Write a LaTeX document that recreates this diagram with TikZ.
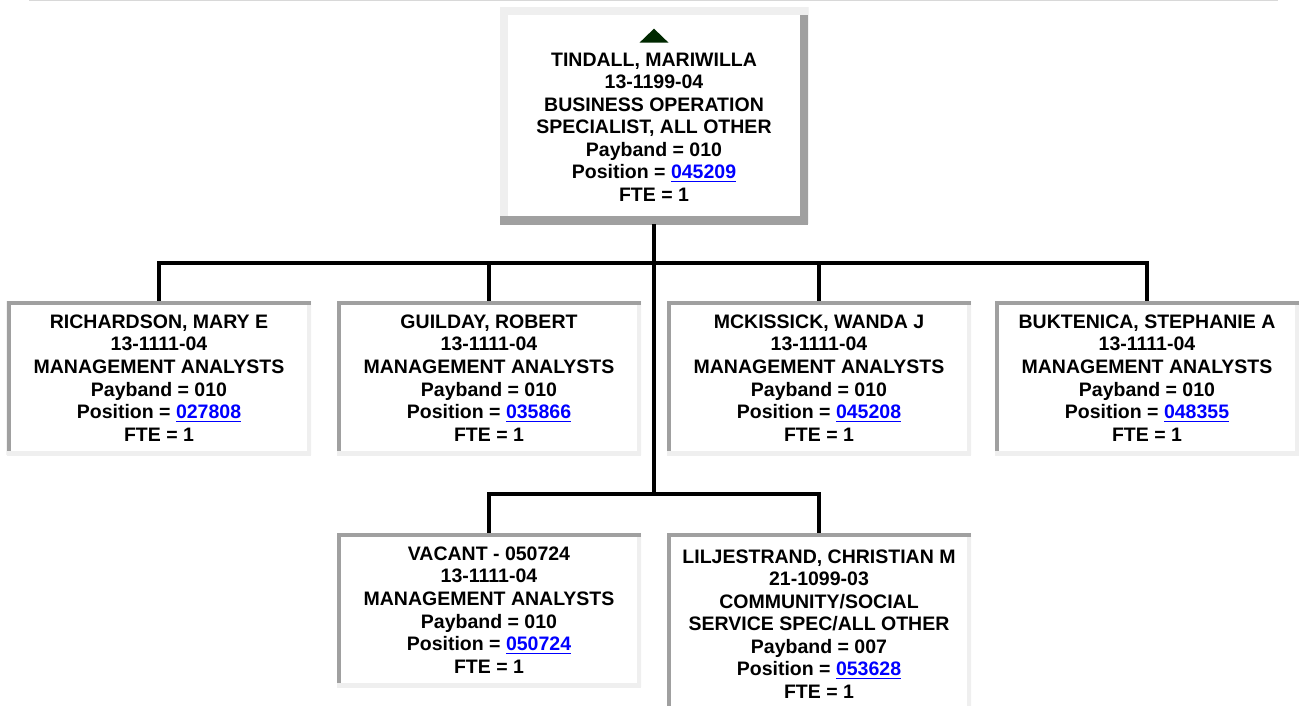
\documentclass[tikz,border=0pt]{standalone}
\usepackage{fontspec}
\setmainfont{Liberation Sans}
\definecolor{bevdark}{RGB}{160,160,160}
\definecolor{bevlight}{RGB}{239,239,239}
\definecolor{linkblue}{RGB}{0,0,255}
\definecolor{upgreen}{RGB}{0,40,0}
\definecolor{rulegray}{RGB}{216,216,216}
\usetikzlibrary{calc}
\newcommand{\poslink}[1]{\textcolor{linkblue}{\underline{#1}}}
\tikzset{
  person/.style={rectangle,fill=white,inner sep=0pt,align=center,
                 minimum width=6.08cm,minimum height=3.08cm,
                 font=\bfseries\fontsize{11.1}{12.85}\selectfont,
                 path picture={
                   \draw[bevdark,line width=0.16cm]
                     (path picture bounding box.south west) -- (path picture bounding box.north west);
                   \draw[bevlight,line width=0.16cm]
                     (path picture bounding box.south east) -- (path picture bounding box.north east);
                   \draw[bevdark,line width=0.16cm]
                     (path picture bounding box.north west) -- (path picture bounding box.north east);
                   \draw[bevlight,line width=0.16cm]
                     (path picture bounding box.south west) -- (path picture bounding box.south east);
                 }},
  head/.style={rectangle,fill=white,inner sep=0pt,align=center,
               minimum width=6.16cm,minimum height=4.34cm,
               font=\bfseries\fontsize{11.1}{12.85}\selectfont,
               path picture={
                 \draw[bevlight,line width=0.32cm]
                   (path picture bounding box.south west) -- (path picture bounding box.north west);
                 \draw[bevdark,line width=0.32cm]
                   (path picture bounding box.south east) -- (path picture bounding box.north east);
                 \draw[bevlight,line width=0.32cm]
                   (path picture bounding box.north west) -- (path picture bounding box.north east);
                 \draw[bevdark,line width=0.32cm]
                   (path picture bounding box.south west) -- (path picture bounding box.south east);
               }},
  wire/.style={black,line width=0.08cm,line join=miter},
}

\begin{document}
\begin{tikzpicture}
    \useasboundingbox (0,0) rectangle (25.98,-14.1);

    \coordinate (ruleL) at (0.58,-0.01);
    \coordinate (ruleR) at (25.56,-0.01);
    \draw[rulegray,line width=0.02cm] (ruleL) -- (ruleR);

    \node[head] (tindall) at (13.08,-2.31) {\rule{0pt}{0.28cm}\\
        TINDALL, MARIWILLA\\13-1199-04\\BUSINESS OPERATION\\SPECIALIST, ALL OTHER\\
        Payband = 010\\Position = \poslink{045209}\\FTE = 1};
    \fill[upgreen] ($(tindall.north)+(-0.29,-0.72)$) -- ($(tindall.north)+(0.29,-0.72)$)
        -- ($(tindall.north)+(0,-0.44)$) -- cycle;

    \node[person] (richardson) at (3.18,-7.56) {RICHARDSON, MARY E\\13-1111-04\\MANAGEMENT ANALYSTS\\
        Payband = 010\\Position = \poslink{027808}\\FTE = 1};
    \node[person] (guilday) at (9.78,-7.56) {GUILDAY, ROBERT\\13-1111-04\\MANAGEMENT ANALYSTS\\
        Payband = 010\\Position = \poslink{035866}\\FTE = 1};
    \node[person] (mckissick) at (16.38,-7.56) {MCKISSICK, WANDA J\\13-1111-04\\MANAGEMENT ANALYSTS\\
        Payband = 010\\Position = \poslink{045208}\\FTE = 1};
    \node[person] (buktenica) at (22.94,-7.56) {BUKTENICA, STEPHANIE A\\13-1111-04\\MANAGEMENT ANALYSTS\\
        Payband = 010\\Position = \poslink{048355}\\FTE = 1};

    \node[person] (vacant) at (9.78,-12.2) {VACANT - 050724\\13-1111-04\\MANAGEMENT ANALYSTS\\
        Payband = 010\\Position = \poslink{050724}\\FTE = 1};
    \node[person,minimum height=3.64cm] (liljestrand) at (16.38,-12.48) {LILJESTRAND, CHRISTIAN M\\21-1099-03\\
        COMMUNITY/SOCIAL\\SERVICE SPEC/ALL OTHER\\Payband = 007\\Position = \poslink{053628}\\FTE = 1};

    % reporting lines
    \coordinate (bus1) at (13.08,-5.26);
    \coordinate (bus2) at (13.08,-9.88);
    \draw[wire] (tindall.south) -- (bus2);
    \draw[wire] (richardson.north) -- (richardson.north |- bus1)
        -- (buktenica.north |- bus1) -- (buktenica.north);
    \draw[wire] (guilday.north) -- (guilday.north |- bus1);
    \draw[wire] (mckissick.north) -- (mckissick.north |- bus1);
    \draw[wire] (vacant.north) -- (vacant.north |- bus2)
        -- (liljestrand.north |- bus2) -- (liljestrand.north);

\end{tikzpicture}
\end{document}
